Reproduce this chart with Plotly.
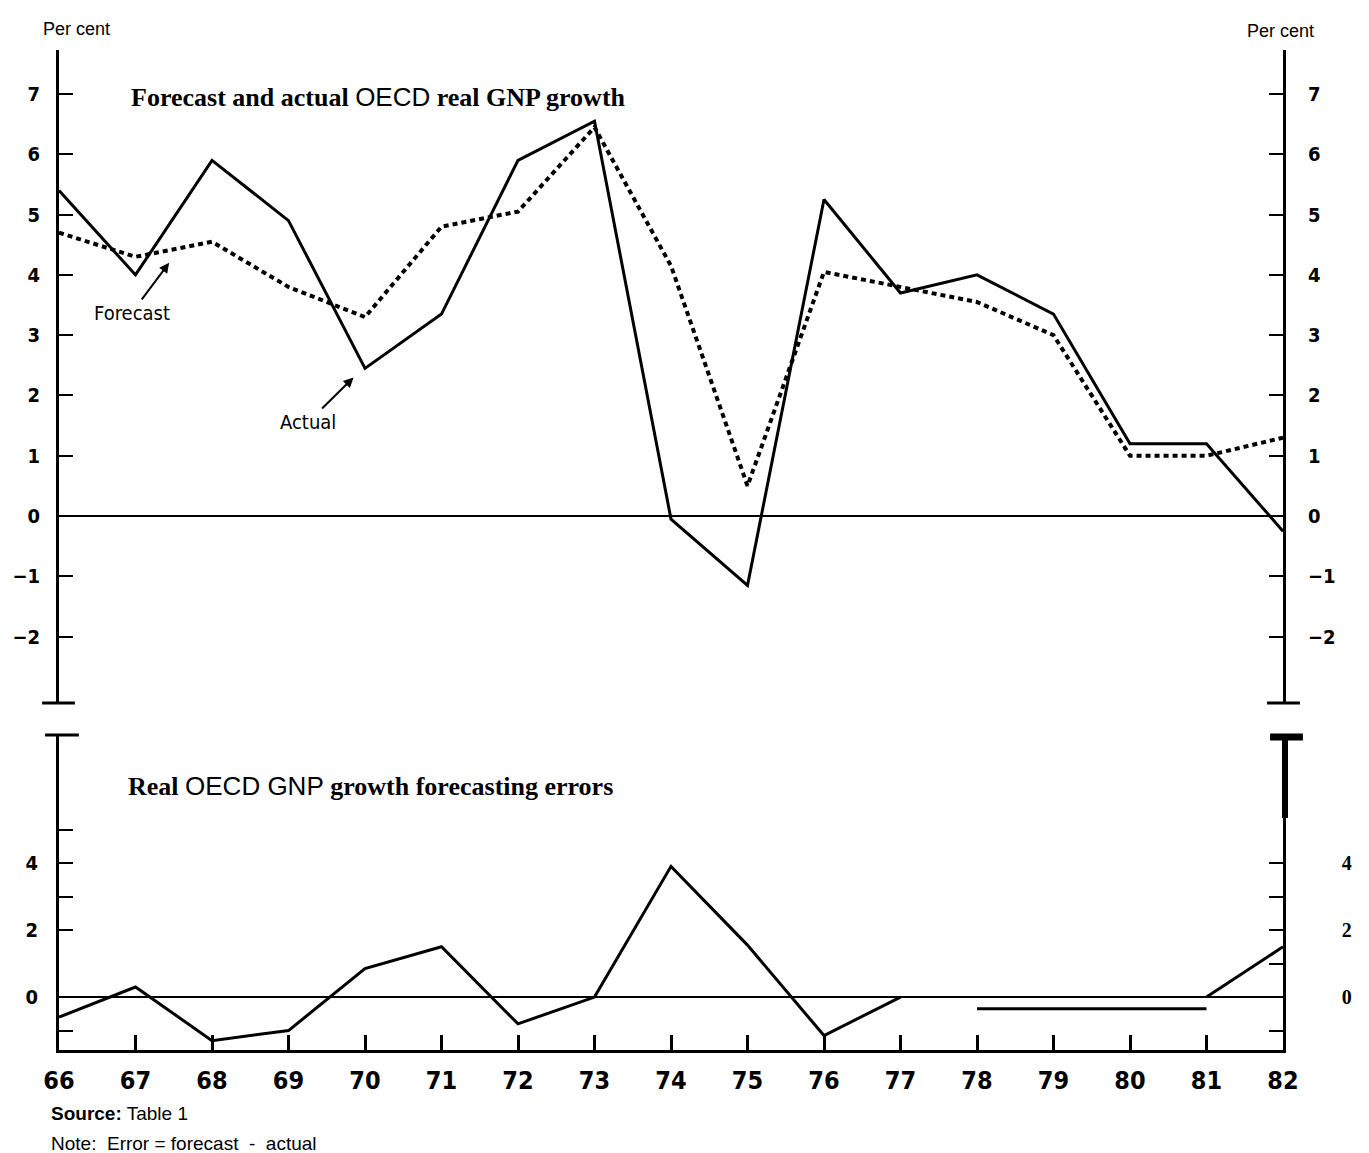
import plotly.graph_objects as go

# ---------------- data ----------------
years = list(range(66, 83))
year_labels = [str(y) for y in years]

actual = [5.4, 4.0, 5.9, 4.9, 2.45, 3.35, 5.9, 6.55, -0.05, -1.15, 5.25, 3.7, 4.0, 3.35, 1.2, 1.2, -0.25]
forecast = [4.7, 4.3, 4.55, 3.8, 3.3, 4.8, 5.05, 6.45, 4.15, 0.5, 4.05, 3.8, 3.55, 3.0, 1.0, 1.0, 1.3]

error_years = list(range(66, 78))
errors = [-0.6, 0.3, -1.3, -1.0, 0.85, 1.5, -0.8, 0.0, 3.9, 1.55, -1.15, 0.0]
error_years_b = [78, 79, 80, 81]
errors_b = [-0.35, -0.35, -0.35, -0.35]
error_years_c = [81, 82]
errors_c = [0.0, 1.5]

top_ticks = [-2, -1, 0, 1, 2, 3, 4, 5, 6, 7]
top_tick_labels = ["\u2212" + "2", "\u2212" + "1", "0", "1", "2", "3", "4", "5", "6", "7"]
bot_left_ticks = [-1, 0, 2, 3, 4, 5]
bot_left_labels = ["", "0", "2", "", "4", ""]
bot_right_ticks = [-1, 0, 1, 2, 3, 4]
bot_right_labels = ["", "0", "", "2", "", "4"]

# ---------------- styling ----------------
NARROW = "Liberation Sans Narrow, Arial Narrow, DejaVu Sans Condensed, sans-serif"
SERIF = "Liberation Serif, Times New Roman, serif"
SANS = "Liberation Sans, Arial, sans-serif"
BLK = "black"

fig = go.Figure()
fig.add_trace(go.Scatter(x=years, y=actual, mode="lines", name="Actual",
                         line=dict(color=BLK, width=3), xaxis="x", yaxis="y"))
fig.add_trace(go.Scatter(x=years, y=forecast, mode="lines", name="Forecast",
                         line=dict(color=BLK, width=4, dash="5px,4px"), xaxis="x", yaxis="y"))
fig.add_trace(go.Scatter(x=error_years, y=errors, mode="lines", name="Error",
                         line=dict(color=BLK, width=3), xaxis="x2", yaxis="y2"))
fig.add_trace(go.Scatter(x=error_years_b, y=errors_b, mode="lines", name="Error",
                         line=dict(color=BLK, width=3), xaxis="x2", yaxis="y2"))
fig.add_trace(go.Scatter(x=error_years_c, y=errors_c, mode="lines", name="Error",
                         line=dict(color=BLK, width=3), xaxis="x2", yaxis="y2"))
# empty traces so the right-hand axes get their own subplots
fig.add_trace(go.Scatter(x=[], y=[], xaxis="x", yaxis="y3", hoverinfo="skip", showlegend=False))
fig.add_trace(go.Scatter(x=[], y=[], xaxis="x2", yaxis="y4", hoverinfo="skip", showlegend=False))

tickfont = dict(family=NARROW, size=20, color=BLK, weight="bold")

fig.update_layout(
    width=1369, height=1153,
    margin=dict(l=52, r=86, t=50, b=103),
    paper_bgcolor="white", plot_bgcolor="white",
    showlegend=False,
    xaxis=dict(domain=[0, 1], range=[66, 82], anchor="y", visible=False),
    xaxis2=dict(domain=[0, 1], range=[66, 82], anchor="y2",
                tickvals=years, ticktext=year_labels,
                ticks="inside", ticklen=15, tickwidth=3, tickcolor=BLK,
                showline=True, linewidth=3, linecolor=BLK, showgrid=False, zeroline=False,
                tickfont=dict(family=NARROW, size=25, color=BLK, weight="bold"),
                ticklabelstandoff=6),
    yaxis=dict(domain=[0.347, 1], range=[-3.10, 7.73], anchor="x",
               tickvals=top_ticks, ticktext=top_tick_labels,
               ticks="inside", ticklen=14, tickwidth=2, tickcolor=BLK,
               showline=True, linewidth=3, linecolor=BLK, showgrid=False,
               zeroline=True, zerolinecolor=BLK, zerolinewidth=2,
               tickfont=tickfont, ticklabelstandoff=12),
    yaxis3=dict(overlaying="y", side="right", range=[-3.10, 7.73], anchor="x",
                tickvals=top_ticks, ticktext=top_tick_labels,
                ticks="inside", ticklen=14, tickwidth=2, tickcolor=BLK,
                showline=True, linewidth=3, linecolor=BLK, showgrid=False, zeroline=False,
                tickfont=tickfont, ticklabelstandoff=18),
    yaxis2=dict(domain=[0, 0.315], range=[-1.58, 7.82], anchor="x2",
                tickvals=bot_left_ticks, ticktext=bot_left_labels,
                ticks="inside", ticklen=14, tickwidth=2, tickcolor=BLK,
                showline=True, linewidth=3, linecolor=BLK, showgrid=False,
                zeroline=True, zerolinecolor=BLK, zerolinewidth=2,
                tickfont=tickfont, ticklabelstandoff=14),
    yaxis4=dict(overlaying="y2", side="right", range=[-1.58, 7.82], anchor="x2",
                tickvals=bot_right_ticks, ticktext=bot_right_labels,
                ticks="inside", ticklen=14, tickwidth=2, tickcolor=BLK,
                showline=True, linewidth=2.5, linecolor=BLK, showgrid=False, zeroline=False,
                tickfont=dict(family=SERIF, size=20, color=BLK, weight="bold"),
                ticklabelstandoff=52),
)

# axis end caps / break marks (decoration)
def px_x(p):
    return (p - 52) / 1231.0

def px_y(p):
    return (1050 - p) / 1000.0

caps = [
    (35, 68, 703, 3),     # top-left bottom cap
    (38, 72, 735, 3),     # bottom-left top cap
    (1267, 1300, 703, 3), # top-right bottom cap
    (1270, 1303, 737, 7), # bottom-right top cap (thick)
]
for x0, x1, yy, w in caps:
    fig.add_shape(type="line", xref="paper", yref="paper",
                  x0=px_x(x0), x1=px_x(x1), y0=px_y(yy), y1=px_y(yy),
                  line=dict(color=BLK, width=w))
fig.add_shape(type="line", xref="paper", yref="paper",
              x0=px_x(1285), x1=px_x(1285), y0=px_y(737), y1=px_y(818),
              line=dict(color=BLK, width=6))

# titles
fig.add_annotation(xref="paper", yref="paper", x=px_x(122), y=px_y(97), xanchor="left", yanchor="middle",
                   showarrow=False,
                   text=("<b>Forecast and actual</b> <span style='font-family:Liberation Sans, Arial, sans-serif;font-weight:normal'>OECD</span>"
                         " <b>real GNP growth</b>"),
                   font=dict(family=SERIF, size=26, color=BLK))
fig.add_annotation(xref="paper", yref="paper", x=px_x(119), y=px_y(786), xanchor="left", yanchor="middle",
                   showarrow=False,
                   text=("<b>Real</b> <span style='font-family:Liberation Sans, Arial, sans-serif;font-weight:normal'>OECD GNP</span>"
                         " <b>growth forecasting errors</b>"),
                   font=dict(family=SERIF, size=26, color=BLK))

# per cent labels
fig.add_annotation(xref="paper", yref="paper", x=px_x(70), y=px_y(17), xanchor="center", showarrow=False,
                   text="Per cent", font=dict(family=SANS, size=18, color=BLK))
fig.add_annotation(xref="paper", yref="paper", x=px_x(1280), y=px_y(19), xanchor="center", showarrow=False,
                   text="Per cent", font=dict(family=SANS, size=18, color=BLK))

# series labels with arrows
fig.add_annotation(xref="x", yref="y", axref="x", ayref="y",
                   x=67.44, y=4.2, ax=66.95, ay=3.37, text="Forecast",
                   showarrow=True, arrowhead=2, arrowsize=1, arrowwidth=2, arrowcolor=BLK,
                   font=dict(family=NARROW, size=20, color=BLK))
fig.add_annotation(xref="x", yref="y", axref="x", ayref="y",
                   x=69.85, y=2.3, ax=69.26, ay=1.56, text="Actual",
                   showarrow=True, arrowhead=2, arrowsize=1, arrowwidth=2, arrowcolor=BLK,
                   font=dict(family=NARROW, size=20, color=BLK))

# source / note
fig.add_annotation(xref="paper", yref="paper", x=px_x(42), y=px_y(1113), xanchor="left", yanchor="middle",
                   showarrow=False, text="<b>Source:</b> Table 1",
                   font=dict(family=SANS, size=19, color=BLK))
fig.add_annotation(xref="paper", yref="paper", x=px_x(42), y=px_y(1143), xanchor="left", yanchor="middle",
                   showarrow=False, text="Note:  Error = forecast  -  actual",
                   font=dict(family=SANS, size=19, color=BLK))

fig.write_html("out.html", config={"displayModeBar": False},
               post_script="document.body.style.margin='0px';")
